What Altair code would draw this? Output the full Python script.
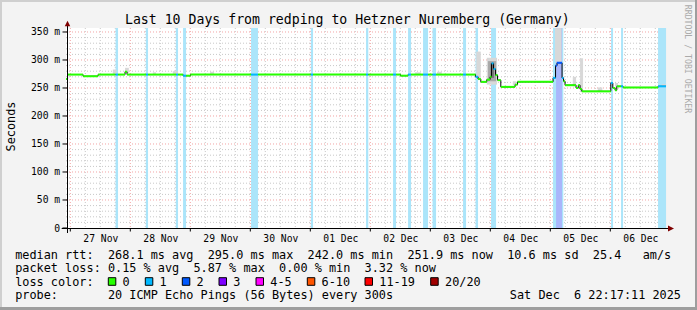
import json
import altair as alt
import pandas as pd

# ---------------- data ----------------
# time axis in hours since 2025-11-26 00:00 ; graph spans 26 Nov 22:17 -> 06 Dec 22:17
T_START = 22.28
T_END = 262.28
Y_TOP = 357.14  # ms

day_labels = ["27 Nov", "28 Nov", "29 Nov", "30 Nov", "01 Dec",
              "02 Dec", "03 Dec", "04 Dec", "05 Dec", "06 Dec"]
day_noon = [36, 60, 84, 108, 132, 156, 180, 204, 228, 252]
day_midnight = [24, 48, 72, 96, 120, 144, 168, 192, 216, 240]
y_ticks = [0, 50, 100, 150, 200, 250, 300, 350]

# median rtt as steps: start hour, value (ms), loss bucket
med_start = [22.3, 22.9, 29.1, 35.1, 42.1, 43.1, 45.9, 46.7, 54.3, 55.1,
             66.3, 67.1, 69.1, 70.3, 72.1, 96.3, 99.1, 120.2, 121.1, 142.3,
             143.2, 153.1, 154.3, 156.1, 159.1, 160.3, 165.1, 167.1, 168.9, 170.3,
             181.1, 182.3, 186.1, 187.1, 188.2, 190.6, 191.9, 192.5, 193.3, 194.1,
             194.9, 196.2, 201.9, 202.9, 217.1, 218.1, 218.7, 220.7, 221.3, 221.9,
             226.3, 227.2, 227.9, 228.6, 240.2, 241.0, 241.9, 242.6, 244.3, 245.1,
             259.1]
med_ms = [266, 274, 271, 274, 274, 274, 279, 274, 274, 274,
          274, 274, 272, 272, 274, 274, 274, 274, 274, 274,
          274, 274, 274, 272, 274, 274, 274, 274, 274, 274,
          274, 274, 270, 266, 261, 265, 270, 294, 284, 273,
          264, 252, 256, 261, 268, 290, 295, 268, 262, 255,
          250, 255, 248, 244, 259, 250, 246, 253, 253, 251,
          253]
med_loss = [0, 0, 0, 0, 1, 0, 0, 0, 1, 0,
            1, 0, 1, 0, 0, 1, 0, 1, 0, 1,
            0, 1, 0, 0, 1, 0, 1, 0, 1, 0,
            1, 0, 1, 0, 0, 0, 0, 1, 1, 0,
            0, 0, 0, 0, 1, 2, 2, 1, 0, 0,
            0, 0, 0, 0, 1, 0, 0, 0, 1, 0,
            1]

# loss background bands
band_start = [42.1, 54.2, 66.2, 69.1, 96.3, 120.2, 142.3, 153.1, 159.1, 165.1,
              168.9, 181.1, 186.1, 192.3, 217.1, 218.3, 240.3, 244.3, 259.1]
band_end = [43.1, 55.1, 67.1, 70.3, 99.1, 121.1, 143.2, 154.3, 160.3, 167.1,
            170.3, 182.3, 187.1, 194.3, 221.2, 220.7, 241.1, 245.1, 262.3]
band_loss = [1, 1, 1, 1, 1, 1, 1, 1, 1, 1,
             1, 1, 1, 1, 1, 2, 1, 1, 1]

# smoke (ping spread)
smoke_start = [41.0, 45.9, 57.0, 65.0, 79.9, 161.9, 170.7, 186.4, 190.6, 191.1,
               192.1, 201.0, 210.7, 217.9, 225.0, 227.9, 235.0, 241.9, 260.6]
smoke_end = [42.4, 47.4, 58.3, 67.1, 81.5, 164.3, 172.6, 188.2, 194.7, 194.3,
             193.5, 202.3, 211.9, 220.5, 226.3, 229.1, 236.8, 243.1, 262.3]
smoke_lo = [275, 277, 275, 275, 274, 275, 275, 268, 256, 262,
            268, 255, 259, 297, 253, 244, 244, 253, 253]
smoke_hi = [283, 286, 278, 280, 279, 278, 279, 315, 304, 298,
            294, 262, 262, 357, 270, 303, 251, 259, 257]
smoke_level = [1, 1, 1, 1, 1, 1, 1, 1, 1, 2,
               3, 1, 1, 1, 1, 1, 1, 1, 1]

loss_labels = ["0", "1", "2", "3", "4-5", "6-10", "11-19", "20/20"]
loss_colors = ["#26ff00", "#00b8ff", "#0059ff", "#7e00ff",
               "#ff00ff", "#ff5500", "#ff0000", "#a10000"]
band_colors = {1: "#abe5fa", 2: "#a9b6fb"}
smoke_colors = {1: "#d8d8d8", 2: "#a8a8a8", 3: "#787878"}

rtt_stats = [268.1, 295.0, 242.0, 251.9]
rtt_sd = 10.6
rtt_ams = 25.4
loss_stats = [0.15, 5.87, 0.00, 3.32]

TITLE = "Last 10 Days from redping to Hetzner Nuremberg (Germany)"
PROBE = "20 ICMP Echo Pings (56 Bytes) every 300s"
STAMP = "Sat Dec  6 22:17:11 2025"

# ---------------- chart ----------------
W, H = 600, 200
MONO = "DejaVu Sans Mono"
NB = "\u00a0"

xscale = alt.Scale(domain=[T_START, T_END], zero=False, nice=False)
yscale = alt.Scale(domain=[0, Y_TOP], zero=False, nice=False)

label_js = json.dumps(day_labels).replace('"', "'")
xaxis = alt.Axis(values=day_noon, labelExpr=f"{label_js}[round((datum.value-36)/24)]",
                 ticks=False, domain=False, grid=False, title=None,
                 labelFont=MONO, labelFontSize=9.7, labelColor="#000000",
                 labelPadding=13.3, labelBaseline="alphabetic",
                 labelFlush=False, labelOverlap=False)
yaxis = alt.Axis(values=y_ticks, labelExpr="datum.value == 0 ? '0' : datum.value + ' m'",
                 ticks=False, domain=False, grid=False, title=None,
                 labelFont=MONO, labelFontSize=9.7, labelColor="#000000",
                 labelPadding=6.3, labelOverlap=False)

minor_h = [v for v in range(10, 360, 10) if v % 50 != 0]
major_h = [v for v in range(50, 360, 50)]
minor_v = [h for h in range(30, 262, 6) if h % 24 != 0]

GRID_C = "#c8c8c8"
MGRID_C = "#f2a4a4"
grid_minor_h = alt.Chart(pd.DataFrame({"v": minor_h})).mark_rule(
    color=GRID_C, strokeWidth=1, strokeDash=[1, 2]).encode(
    y=alt.Y("v:Q", scale=yscale, axis=yaxis), x=alt.value(0), x2=alt.value(W))
grid_minor_v = alt.Chart(pd.DataFrame({"h": minor_v})).mark_rule(
    color=GRID_C, strokeWidth=1, strokeDash=[1, 2]).encode(
    x=alt.X("h:Q", scale=xscale, axis=xaxis), y=alt.value(0), y2=alt.value(H))
grid_major_h = alt.Chart(pd.DataFrame({"v": major_h})).mark_rule(
    color=MGRID_C, strokeWidth=1, strokeDash=[1, 2]).encode(
    y=alt.Y("v:Q", scale=yscale, axis=yaxis), x=alt.value(0), x2=alt.value(W))
grid_major_v = alt.Chart(pd.DataFrame({"h": day_midnight})).mark_rule(
    color=MGRID_C, strokeWidth=1, strokeDash=[1, 2]).encode(
    x=alt.X("h:Q", scale=xscale, axis=xaxis), y=alt.value(0), y2=alt.value(H))

bands_df = pd.DataFrame({"b0": band_start, "b1": band_end,
                         "col": [band_colors[l] for l in band_loss]})
bands = alt.Chart(bands_df).mark_rect().encode(
    x=alt.X("b0:Q", scale=xscale, axis=xaxis), x2="b1:Q",
    y=alt.value(0), y2=alt.value(H),
    fill=alt.Fill("col:N", scale=None))

smoke_df = pd.DataFrame({"s0": smoke_start, "s1": smoke_end, "lo": smoke_lo,
                         "hi": smoke_hi, "col": [smoke_colors[l] for l in smoke_level]})
smoke = alt.Chart(smoke_df).mark_rect().encode(
    x=alt.X("s0:Q", scale=xscale, axis=xaxis), x2="s1:Q",
    y=alt.Y("lo:Q", scale=yscale, axis=yaxis), y2="hi:Q",
    fill=alt.Fill("col:N", scale=None))

med_end = med_start[1:] + [T_END]
step_df = pd.DataFrame({"t": med_start + [T_END], "ms": med_ms + [med_ms[-1]]})
step_line = alt.Chart(step_df).mark_line(interpolate="step-after", color="#000000",
                                         strokeWidth=1).encode(
    x=alt.X("t:Q", scale=xscale, axis=xaxis), y=alt.Y("ms:Q", scale=yscale, axis=yaxis))

seg_df = pd.DataFrame({"t0": med_start, "t1": med_end, "ms": med_ms,
                       "col": [loss_colors[l] for l in med_loss]})
segs = alt.Chart(seg_df).mark_rule(strokeWidth=2, strokeCap="butt").encode(
    x=alt.X("t0:Q", scale=xscale, axis=xaxis), x2="t1:Q",
    y=alt.Y("ms:Q", scale=yscale, axis=yaxis),
    stroke=alt.Stroke("col:N", scale=None))

# axis ticks
yt = alt.Chart(pd.DataFrame({"v": y_ticks})).mark_rule(color="#000000").encode(
    y=alt.Y("v:Q", scale=yscale, axis=yaxis), x=alt.value(-3.5), x2=alt.value(1.5))
xt = alt.Chart(pd.DataFrame({"h": day_midnight})).mark_rule(color="#000000").encode(
    x=alt.X("h:Q", scale=xscale, axis=xaxis), y=alt.value(200), y2=alt.value(203.5))

one = pd.DataFrame({"a": [0]})
xline = alt.Chart(one).mark_rule(color="#000000").encode(
    x=alt.value(-4.3), x2=alt.value(603), y=alt.value(200.5))
yline = alt.Chart(one).mark_rule(color="#000000").encode(
    x=alt.value(1.5), y=alt.value(-2), y2=alt.value(205))
xarrow = alt.Chart(one).mark_point(shape="M-1,-1L1,0L-1,1Z", filled=True, size=36,
                                   color="#7f0000", opacity=1).encode(
    x=alt.value(605), y=alt.value(200.5))
yarrow = alt.Chart(one).mark_point(shape="M-1,1L0,-1L1,1Z", filled=True, size=30,
                                   color="#7f0000", opacity=1).encode(
    x=alt.value(1.5), y=alt.value(-4.5))

LEG_SIZE = 11.85


def txt(s, x, y, size=LEG_SIZE, align="left", angle=0, color="#000000"):
    s = s.replace(" ", NB)
    return alt.Chart(pd.DataFrame({"s": [s]})).mark_text(
        font=MONO, fontSize=size, align=align, baseline="alphabetic",
        angle=angle, color=color).encode(x=alt.value(x), y=alt.value(y), text="s:N")


def box(x0, x1, y0, y1, fill, stroke=None):
    kw = dict(fill=fill)
    if stroke:
        kw.update(stroke=stroke, strokeWidth=1)
    return alt.Chart(one).mark_rect(**kw).encode(
        x=alt.value(x0), x2=alt.value(x1), y=alt.value(y0), y2=alt.value(y1))


row1 = ("median rtt:  "
        f"{rtt_stats[0]:.1f} ms avg  {rtt_stats[1]:.1f} ms max  "
        f"{rtt_stats[2]:.1f} ms min  {rtt_stats[3]:.1f} ms now  "
        f"{rtt_sd:.1f} ms sd  {rtt_ams:.1f}   am/s")
row2 = ("packet loss: "
        f"{loss_stats[0]:.2f} % avg  {loss_stats[1]:.2f} % max  "
        f"{loss_stats[2]:.2f} % min  {loss_stats[3]:.2f} % now")
row4 = "probe:       " + PROBE

LX = -50.8
R1, R2, R3, R4 = 230.7, 244.2, 257.8, 271.3
texts = [
    txt(TITLE, 281.3, -4, size=13.2, align="center"),
    txt("Seconds", -51.5, 98.5, angle=270, align="center"),
    txt("RRDTOOL / TOBI OETIKER", 619.3, 31, size=8.2, angle=90, align="center",
        color="#aaaaaa"),
    txt(row1, LX, R1),
    txt(row2, LX, R2),
    txt("loss color:", LX, R3),
    txt(row4, LX, R4),
    txt(STAMP, 615, R4, align="right"),
]
sq_x = [42.3, 79.3, 116.3, 153, 190, 241.3, 299, 364.7]
legend_marks = []
for lab, col, sx in zip(loss_labels, loss_colors, sq_x):
    legend_marks.append(box(sx, sx + 7.5, 249.7, 257.3, col, "#000000"))
    legend_marks.append(txt(lab, sx + 14.3, R3))

border = [
    box(-66, 631, -28, -26, "#cfcfcf"),
    box(-66, -64, -28, 282, "#cfcfcf"),
    box(-66, 631, 279, 282, "#9e9e9e"),
    box(629, 631, -28, 282, "#9e9e9e"),
]

layers = [grid_minor_h, grid_minor_v, grid_major_h, grid_major_v, bands, smoke,
          step_line, segs, yt, xt, xline, yline, xarrow, yarrow] + texts + legend_marks + border

chart = alt.layer(*layers).properties(
    width=W, height=H,
    padding={"left": 66, "top": 28, "right": 31, "bottom": 82},
    autosize=alt.AutoSizeParams(type="none"),
    background="#f3f3f3",
).configure_view(fill="#ffffff", stroke=None)

chart.save("out.html", embed_options={"renderer": "svg", "actions": False})
